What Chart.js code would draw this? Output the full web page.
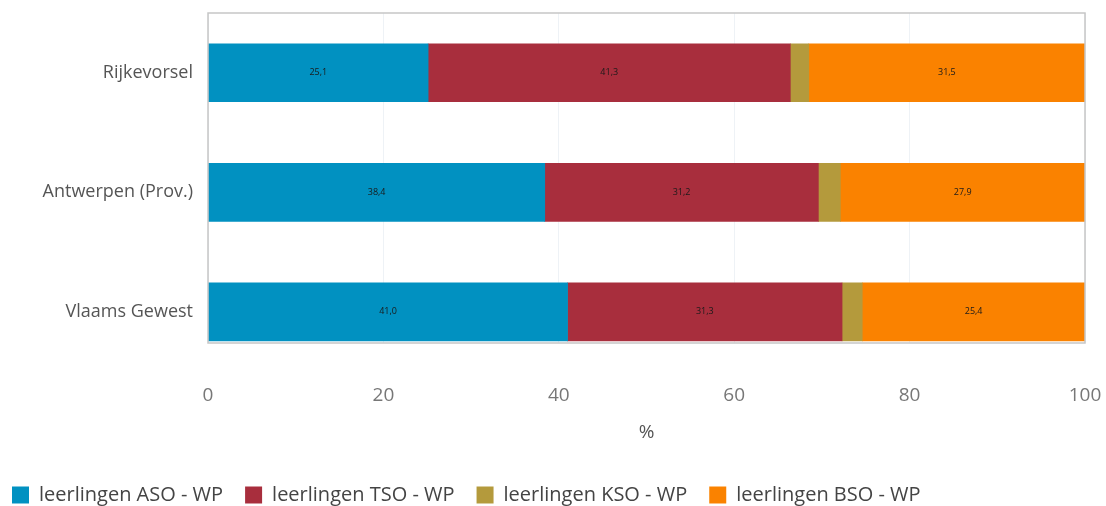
<!DOCTYPE html>
<html>
<head>
<meta charset="utf-8">
<script src="https://cdn.jsdelivr.net/npm/chart.js@4.4.1/dist/chart.umd.min.js"></script>
<style>
  html, body { margin: 0; padding: 0; background: #fff; }
  #wrap { width: 1106px; height: 506px; }
</style>
</head>
<body>
<div id="wrap"><canvas id="chart"></canvas></div>
<script>
const regions = ['Rijkevorsel', 'Antwerpen (Prov.)', 'Vlaams Gewest'];
const seriesNames = ['leerlingen ASO - WP', 'leerlingen TSO - WP', 'leerlingen KSO - WP', 'leerlingen BSO - WP'];
const asoValues = [25.1, 38.4, 41.0];
const tsoValues = [41.3, 31.2, 31.3];
const ksoValues = [2.1, 2.5, 2.3];
const bsoValues = [31.5, 27.9, 25.4];
const xTicks = [0, 20, 40, 60, 80, 100];
const colors = ['#0191c1', '#a82e3d', '#b49a3c', '#fa8200'];

const FONT = '"Open Sans", "DejaVu Sans", sans-serif';

function toPoints(vals) {
    return vals.map((v, i) => ({ x: v, y: i }));
}

// Kleine zwarte labels midden in de balken
const barLabels = {
    id: 'barLabels',
    afterDatasetsDraw(chart) {
        const ctx = chart.ctx;
        ctx.save();
        ctx.font = '9px ' + FONT;
        ctx.fillStyle = '#1a1a1a';
        ctx.textAlign = 'center';
        ctx.textBaseline = 'middle';
        chart.data.datasets.forEach((ds, di) => {
            const meta = chart.getDatasetMeta(di);
            meta.data.forEach((bar, i) => {
                const v = ds.data[i].x;
                if (v < 5) return;
                const c = bar.getCenterPoint();
                ctx.fillText(v.toFixed(1).replace('.', ','), c.x, c.y);
            });
        });
        ctx.restore();
    }
};

// Grijze rand rond het plotgebied
const plotBorder = {
    id: 'plotBorder',
    afterDraw(chart) {
        const a = chart.chartArea;
        const ctx = chart.ctx;
        ctx.save();
        ctx.strokeStyle = '#c6c6c6';
        ctx.lineWidth = 1.5;
        ctx.strokeRect(a.left, a.top, a.right - a.left, a.bottom - a.top);
        ctx.restore();
    }
};

const datasets = [asoValues, tsoValues, ksoValues, bsoValues].map((vals, i) => ({
    label: seriesNames[i],
    data: toPoints(vals),
    backgroundColor: colors[i],
    borderWidth: 0,
    barThickness: 58
}));

new Chart(document.getElementById('chart'), {
    type: 'bar',
    data: { datasets },
    plugins: [barLabels, plotBorder],
    options: {
        indexAxis: 'y',
        responsive: true,
        maintainAspectRatio: false,
        animation: false,
        layout: { padding: { top: 13, right: 21, left: -10, bottom: -9 } },
        scales: {
            x: {
                type: 'linear',
                stacked: true,
                min: 0,
                max: 100,
                afterBuildTicks: s => { s.ticks = xTicks.map(v => ({ value: v })); },
                afterFit: s => { s.height = 120; s.paddingLeft = 0; s.paddingRight = 0; },
                grid: { color: '#eef2f6', drawTicks: false },
                border: { display: false },
                ticks: { color: '#777', font: { family: FONT, size: 19 }, padding: 41 },
                title: { display: true, text: '%', color: '#555', font: { family: FONT, size: 19 }, padding: { top: 10, bottom: 19 } }
            },
            y: {
                type: 'linear',
                stacked: true,
                reverse: true,
                offset: false,
                min: -0.5,
                max: 2.26,
                afterBuildTicks: s => { s.ticks = regions.map((r, i) => ({ value: i })); },
                afterFit: s => { s.width = 218; s.paddingTop = 0; s.paddingBottom = 0; },
                grid: { display: false, drawTicks: false },
                border: { display: false },
                ticks: {
                    color: '#555',
                    font: { family: FONT, size: 18 },
                    padding: 15,
                    callback: v => regions[v] || ''
                }
            }
        },
        plugins: {
            legend: {
                position: 'bottom',
                align: 'start',
                labels: {
                    color: '#444',
                    font: { family: FONT, size: 20 },
                    boxWidth: 17,
                    boxHeight: 17,
                    padding: 22
                }
            },
            tooltip: { enabled: false }
        }
    }
});
</script>
</body>
</html>
